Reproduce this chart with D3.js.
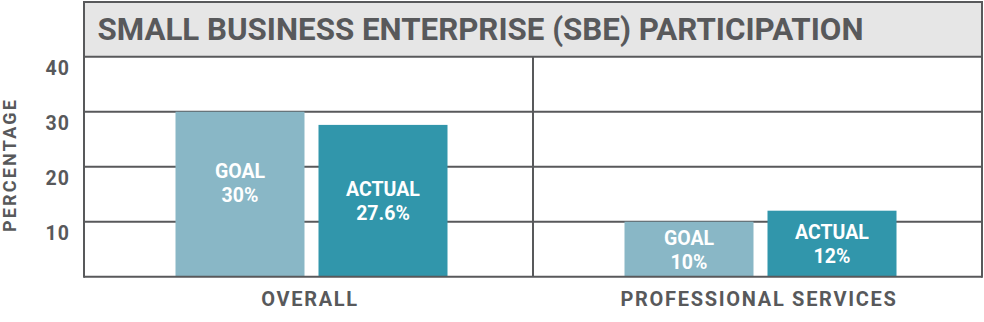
<!DOCTYPE html>
<html>
<head>
<meta charset="utf-8">
<script src="https://cdn.jsdelivr.net/npm/d3@7"></script>
<style>
  html, body { margin: 0; padding: 0; background: #ffffff; }
  svg { display: block; }
  text { font-family: Roboto, "Noto Sans", sans-serif; font-weight: 700; }
</style>
</head>
<body>
<svg id="chart" width="984" height="322"></svg>
<script>
// ---- data ----
const title = "SMALL BUSINESS ENTERPRISE (SBE) PARTICIPATION";
const yAxisTitle = "PERCENTAGE";
const categories = ["OVERALL", "PROFESSIONAL SERVICES"];
const series = ["GOAL", "ACTUAL"];
const goalValues = [30, 10];
const actualValues = [27.6, 12];
const goalLabels = ["30%", "10%"];
const actualLabels = ["27.6%", "12%"];
const yTicks = [10, 20, 30, 40];

// ---- layout ----
const mLeft = 84, mRight = 982, mTop = 2, mBottom = 276.7, plotTop = 56.7;
const gray = "#58595b";
const colors = { GOAL: "#89b7c6", ACTUAL: "#3196ab" };

const svg = d3.select("#chart");

const y = d3.scaleLinear().domain([0, 40]).range([mBottom, plotTop]);
const x0 = d3.scaleBand().domain(categories).range([mLeft, mRight]);
const x1 = d3.scaleBand().domain(series).range([91.5, 363.5]).paddingInner(14 / 143);

// title box
svg.append("rect")
  .attr("x", mLeft).attr("y", mTop)
  .attr("width", mRight - mLeft).attr("height", plotTop - mTop)
  .attr("fill", "#e6e6e6");

svg.append("text")
  .attr("x", 97.5).attr("y", 40)
  .attr("fill", gray)
  .attr("font-size", 30.5)
  .attr("textLength", 766)
  .attr("lengthAdjust", "spacingAndGlyphs")
  .text(title);

// gridlines (drawn before bars)
svg.append("g").selectAll("line")
  .data(yTicks.filter(d => d < 40))
  .join("line")
  .attr("x1", mLeft).attr("x2", mRight)
  .attr("y1", d => y(d)).attr("y2", d => y(d))
  .attr("stroke", gray).attr("stroke-width", 2);

// bars
const rows = categories.map((c, i) => ({
  cat: c,
  bars: [
    { s: "GOAL", v: goalValues[i], lab: goalLabels[i] },
    { s: "ACTUAL", v: actualValues[i], lab: actualLabels[i] }
  ]
}));

const labelNudge = { "OVERALL|GOAL": -12 };

const g = svg.append("g").selectAll("g")
  .data(rows).join("g")
  .attr("transform", d => `translate(${x0(d.cat) - mLeft},0)`);

const bar = g.selectAll("g.bar")
  .data(d => d.bars.map(b => ({ ...b, cat: d.cat })))
  .join("g").attr("class", "bar");

bar.append("rect")
  .attr("x", d => mLeft + x1(d.s))
  .attr("y", d => y(d.v))
  .attr("width", x1.bandwidth())
  .attr("height", d => y(0) - y(d.v))
  .attr("fill", d => colors[d.s]);

bar.each(function(d) {
  const cx = mLeft + x1(d.s) + x1.bandwidth() / 2;
  const mid = (y(d.v) + y(0)) / 2 + (labelNudge[d.cat + "|" + d.s] || 0);
  const t = d3.select(this);
  t.append("text")
    .attr("x", cx).attr("y", mid - 4.5)
    .attr("text-anchor", "middle")
    .attr("fill", "#ffffff")
    .attr("font-size", 19.5)
    .text(d.s);
  t.append("text")
    .attr("x", cx).attr("y", mid + 19.5)
    .attr("text-anchor", "middle")
    .attr("fill", "#ffffff")
    .attr("font-size", 19.5)
    .text(d.lab);
});

// frame: title box border, verticals, bottom axis
const frame = svg.append("g").attr("stroke", gray).attr("stroke-width", 2).attr("fill", "none");
frame.append("line").attr("x1", mLeft).attr("x2", mRight).attr("y1", mTop).attr("y2", mTop);
frame.append("line").attr("x1", mLeft).attr("x2", mRight).attr("y1", y(40)).attr("y2", y(40));
frame.append("line").attr("x1", mLeft).attr("x2", mRight).attr("y1", y(0)).attr("y2", y(0));
frame.append("line").attr("x1", mLeft).attr("x2", mLeft).attr("y1", mTop - 1).attr("y2", y(0) + 1);
frame.append("line").attr("x1", mRight).attr("x2", mRight).attr("y1", mTop - 1).attr("y2", y(0) + 1);
frame.append("line").attr("x1", x0(categories[1])).attr("x2", x0(categories[1]))
  .attr("y1", y(40)).attr("y2", y(0));

// y tick labels
svg.append("g").selectAll("text")
  .data(yTicks).join("text")
  .attr("x", 70).attr("y", d => y(d) + 18)
  .attr("text-anchor", "end")
  .attr("fill", gray)
  .attr("font-size", 19.5)
  .attr("letter-spacing", 1)
  .text(d => d);

// y axis title
svg.append("text")
  .attr("transform", "translate(16,165) rotate(-90)")
  .attr("text-anchor", "middle")
  .attr("fill", gray)
  .attr("font-size", 18)
  .attr("letter-spacing", 2.2)
  .text(yAxisTitle);

// category labels
svg.append("g").selectAll("text")
  .data(categories).join("text")
  .attr("x", d => x0(d) + x0.bandwidth() / 2 + 1.5)
  .attr("y", 306)
  .attr("text-anchor", "middle")
  .attr("fill", gray)
  .attr("font-size", 20)
  .attr("letter-spacing", 1.7)
  .text(d => d);
</script>
</body>
</html>
